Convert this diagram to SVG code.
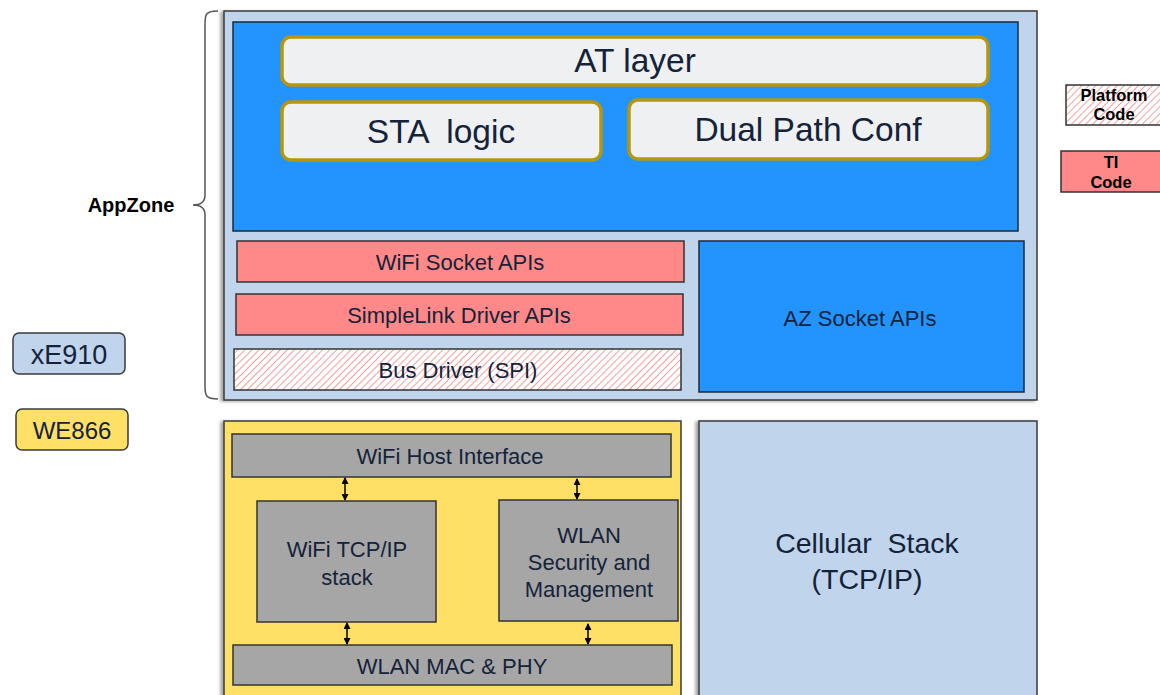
<svg xmlns="http://www.w3.org/2000/svg" width="1160" height="695" viewBox="0 0 1160 695" font-family="Liberation Sans, Arial, Helvetica, sans-serif">
<defs>
<pattern id="hatch" patternUnits="userSpaceOnUse" width="5" height="5" patternTransform="rotate(45)">
<rect width="5" height="5" fill="#ffffff"/>
<line x1="0" y1="0" x2="0" y2="5" stroke="#f2a0a0" stroke-width="2"/>
</pattern>
<marker id="ah" markerWidth="7" markerHeight="7" refX="6" refY="3.5" orient="auto-start-reverse" markerUnits="userSpaceOnUse">
<path d="M0,0 L7,3.5 L0,7 Z" fill="#000"/>
</marker>
<filter id="sh" x="-5%" y="-5%" width="110%" height="110%">
<feDropShadow dx="-3" dy="1" stdDeviation="1.5" flood-color="#000" flood-opacity="0.35"/>
</filter>
</defs>
<style>
text{font-family:'Liberation Sans',Arial,Helvetica,sans-serif;fill:#14233a;text-anchor:middle}
.lb{fill:#c0d4ec;stroke:#3a3a3a;stroke-width:1.5}
.blue{fill:#2394fe;stroke:#1a2a3a;stroke-width:1.5}
.gold{fill:#eff0f2;stroke:#b8960a;stroke-width:3.5}
.ti{fill:#ff8888;stroke:#333;stroke-width:1.5}
.hat{fill:url(#hatch);stroke:#333;stroke-width:1.5}
.yel{fill:#ffe066;stroke:#3a3a3a;stroke-width:1.5}
.gray{fill:#a6a6a6;stroke:#333;stroke-width:1.5}
.t32{font-size:33.5px}
.t20{font-size:22px}
.t28{font-size:28.5px}
.bold{font-weight:bold;fill:#000}
.conn{stroke:#000;stroke-width:1.5;fill:none;marker-start:url(#ah);marker-end:url(#ah)}
</style>

<g id="appzone-brace">
<path d="M218,11 C206,11 205,14 205,24 L205,195 C205,202 200,205 193,205 C200,205 205,208 205,215 L205,386 C205,396 206,399 218,399" fill="none" stroke="#555" stroke-width="1.5"/>
<text class="bold" x="131" y="212" style="font-size:20px">AppZone</text>
</g>

<g id="xe910-box">
<rect class="lb" x="224" y="11" width="813" height="389" filter="url(#sh)"/>
</g>
<g id="app-blue">
<rect class="blue" x="233" y="22" width="785" height="209"/>
</g>
<g id="at-layer">
<rect class="gold" x="282" y="37" width="706" height="48" rx="9"/>
<text class="t32" x="635" y="72">AT layer</text>
</g>
<g id="sta-logic">
<rect class="gold" x="282" y="102" width="319" height="58" rx="9"/>
<text class="t32" x="441" y="143" xml:space="preserve">STA  logic</text>
</g>
<g id="dual-path">
<rect class="gold" x="629" y="100" width="359" height="59" rx="9"/>
<text class="t32" x="808" y="141">Dual Path Conf</text>
</g>
<g id="wifi-socket">
<rect class="ti" x="237" y="241" width="447" height="41"/>
<text class="t20" x="460" y="270">WiFi Socket APIs</text>
</g>
<g id="simplelink">
<rect class="ti" x="236" y="294" width="447" height="41"/>
<text class="t20" x="459" y="323">SimpleLink Driver APIs</text>
</g>
<g id="bus-driver">
<rect class="hat" x="234" y="349" width="447" height="41"/>
<text class="t20" x="458" y="378">Bus Driver (SPI)</text>
</g>
<g id="az-socket">
<rect class="blue" x="699" y="241" width="325" height="151"/>
<text class="t20" x="860" y="326">AZ Socket APIs</text>
</g>

<g id="we866-box">
<rect class="yel" x="224" y="421" width="457" height="290" filter="url(#sh)"/>
</g>
<g id="wifi-host">
<rect class="gray" x="232" y="434" width="439" height="43"/>
<text class="t20" x="450" y="464">WiFi Host Interface</text>
</g>
<g id="wifi-tcpip">
<rect class="gray" x="257" y="501" width="179" height="121"/>
<text class="t20" x="347" y="557">WiFi TCP/IP</text>
<text class="t20" x="347" y="585">stack</text>
</g>
<g id="wlan-sec">
<rect class="gray" x="499" y="500" width="179" height="121"/>
<text class="t20" x="589" y="543">WLAN</text>
<text class="t20" x="589" y="570">Security and</text>
<text class="t20" x="589" y="597">Management</text>
</g>
<g id="wlan-mac">
<rect class="gray" x="233" y="645" width="439" height="40"/>
<text class="t20" x="452" y="674">WLAN MAC &amp; PHY</text>
</g>
<g id="cellular">
<rect class="lb" x="699" y="421" width="338" height="290" filter="url(#sh)"/>
<text class="t28" x="867" y="553" xml:space="preserve">Cellular  Stack</text>
<text class="t28" x="867" y="589">(TCP/IP)</text>
</g>

<g id="connectors">
<line class="conn" x1="345" y1="478" x2="345" y2="500"/>
<line class="conn" x1="577" y1="479" x2="577" y2="499"/>
<line class="conn" x1="347" y1="623" x2="347" y2="644"/>
<line class="conn" x1="588" y1="624" x2="588" y2="644"/>
</g>

<g id="legend-xe910">
<rect class="lb" x="13" y="333" width="112" height="41" rx="6"/>
<text x="69" y="364" style="font-size:27px">xE910</text>
</g>
<g id="legend-we866">
<rect class="yel" x="16" y="409" width="112" height="41" rx="6"/>
<text x="72" y="439" style="font-size:24px">WE866</text>
</g>
<g id="legend-platform">
<rect class="hat" x="1066" y="85" width="96" height="40"/>
<text class="bold" x="1114" y="101" style="font-size:16.5px">Platform</text>
<text class="bold" x="1114" y="120" style="font-size:16.5px">Code</text>
</g>
<g id="legend-ti">
<rect class="ti" x="1061" y="151" width="101" height="41"/>
<text class="bold" x="1111" y="168" style="font-size:16.5px">TI</text>
<text class="bold" x="1111" y="188" style="font-size:16.5px">Code</text>
</g>
</svg>
